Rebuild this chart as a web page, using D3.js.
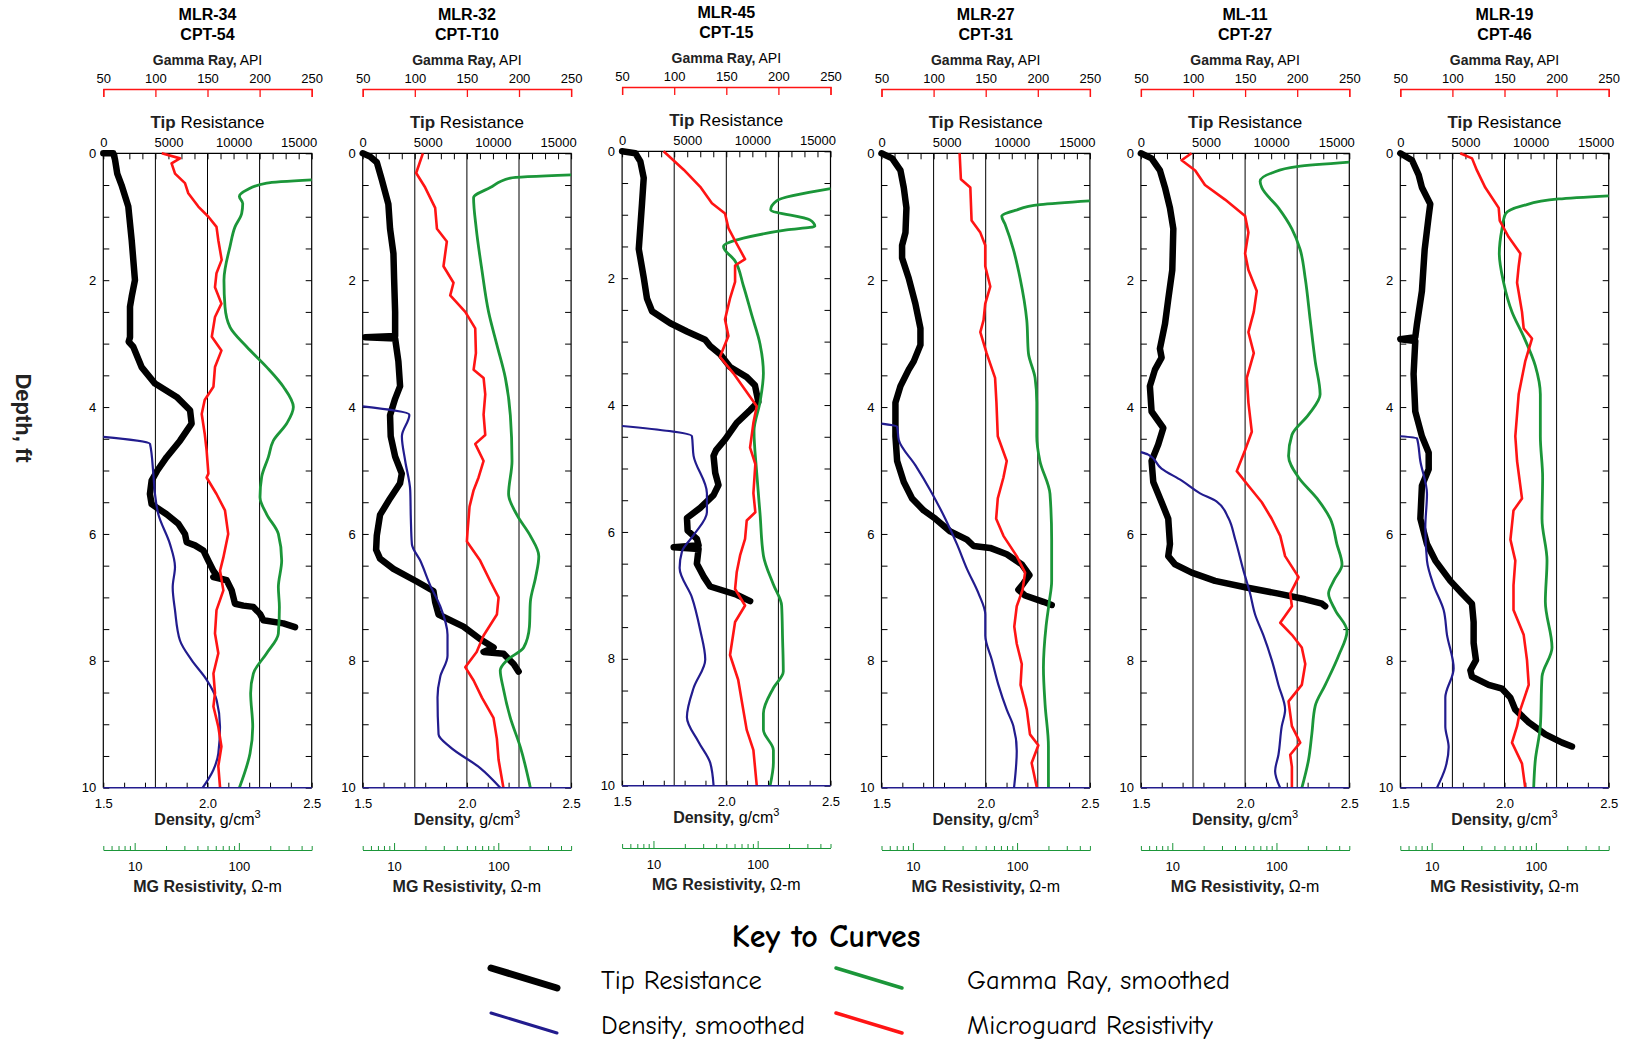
<!DOCTYPE html>
<html>
<head>
<meta charset="utf-8">
<script src="https://cdn.jsdelivr.net/npm/d3@7"></script>
<style>
  body { margin: 0; background: #fff; }
  svg { display: block; font-family: "Liberation Sans", Arial, sans-serif; }
</style>
</head>
<body>
<div id="chart"></div>
<script>
// well / sounding names, one pair per panel
const wellNames = [["MLR-34", "CPT-54"], ["MLR-32", "CPT-T10"], ["MLR-45", "CPT-15"],
                   ["MLR-27", "CPT-31"], ["ML-11", "CPT-27"], ["MLR-19", "CPT-46"]];

// tick labels
const gammaTicks = [50, 100, 150, 200, 250];
const tipTicks = [0, 5000, 10000, 15000];
const densityTicks = [1.5, 2.0, 2.5];
const mgTicks = [10, 100];
const depthTicks = [0, 2, 4, 6, 8, 10];

// every curve is [depth ft, value]
// tip resistance (0-16000), density g/cm3, gamma ray API, MG resistivity ohm-m
const tip34 = [[0,0],[0,770],[0.1,900],[0.32,1070],[0.5,1400],[0.84,1920],[1.37,2180],[2.0,2430],[2.26,2180],[2.42,2050],[2.9,2050],[2.97,1950],[3.05,2300],[3.37,2940],[3.63,3970],[3.84,5630],[4.05,6660],[4.26,6780],[4.53,5890],[4.79,4860],[5.0,4150],[5.16,3710],[5.37,3580],[5.53,3710],[5.69,4860],[5.84,5760],[6.0,6270],[6.13,6400],[6.18,7040],[6.26,7680],[6.42,8060],[6.58,8450],[6.65,8700],[6.68,8450],[6.71,9090],[6.73,9470],[6.89,9860],[7.1,10110],[7.13,10750],[7.15,11520],[7.26,12030],[7.36,12290],[7.41,13820],[7.47,14720]];
const den34 = [[4.47,1.5],[4.58,1.724],[5.05,1.74],[5.37,1.748],[5.69,1.764],[6.16,1.82],[6.52,1.844],[6.84,1.833],[7.2,1.844],[7.68,1.868],[7.99,1.924],[8.3,1.996],[8.62,2.044],[9.04,2.06],[9.46,2.052],[9.72,2.028],[10,1.977]];
const gam34 = [[0.42,250],[0.47,206.8],[0.58,187.6],[0.68,180.6],[0.79,183.8],[0.95,182.8],[1.16,176.4],[1.47,171.6],[2.0,165.8],[2.42,166.8],[2.74,171.6],[3.05,187.6],[3.37,206.8],[3.68,222.8],[4.0,232.4],[4.26,226],[4.53,213.2],[4.79,208.4],[5.1,202],[5.42,200.4],[5.69,206.8],[6.0,218],[6.42,221.2],[6.84,218],[7.15,219],[7.57,218],[7.88,206.8],[8.2,194],[8.51,191.4],[9.04,193.4],[9.46,190.8],[10,180.6]];
const mg34 = [[0,18.2],[0.08,27.2],[0.16,22.6],[0.32,24.4],[0.47,30.4],[0.63,32.7],[0.84,40.8],[1.0,51],[1.16,61],[1.37,63.5],[1.68,68.4],[1.89,61],[2.11,59],[2.37,68],[2.58,59],[2.89,55],[3.11,68],[3.37,59],[3.68,57],[3.89,47],[4.11,44],[4.42,47],[4.68,49],[5.05,51],[5.11,49],[5.37,61],[5.63,73.6],[6.0,79],[6.37,71],[6.58,66],[6.89,71],[7.2,61],[7.57,59],[7.88,63.5],[8.2,57],[8.51,59],[8.72,57],[9.04,63.5],[9.35,68],[9.66,63.5],[10,66]];

const tip32 = [[0,0],[0.05,560],[0.14,1080],[0.41,1460],[0.8,1970],[1.19,2100],[1.58,2360],[1.97,2410],[2.5,2490],[2.88,2490],[2.9,200],[2.92,2490],[3.28,2740],[3.67,2870],[3.87,2490],[4.13,2100],[4.46,2150],[4.78,2490],[5.05,3000],[5.2,2870],[5.44,2100],[5.7,1330],[6.03,1080],[6.25,1030],[6.39,1330],[6.55,2360],[6.75,4150],[6.9,5430],[7.07,5560],[7.27,5820],[7.46,7740],[7.66,9030],[7.79,10050],[7.86,9280],[7.89,10820],[8.05,11590],[8.17,11970]];
const den32 = [[3.99,1.5],[4.12,1.724],[4.46,1.688],[4.85,1.704],[5.31,1.728],[5.76,1.731],[6.16,1.736],[6.42,1.776],[6.81,1.824],[7.14,1.872],[7.59,1.907],[7.92,1.907],[8.25,1.872],[8.58,1.859],[9.16,1.864],[9.36,1.92],[9.69,2.064],[10,2.16]];
const gam32 = [[0.34,250],[0.39,191.7],[0.54,172.4],[0.7,156.4],[1.19,159],[1.84,164.4],[2.5,170.8],[3.02,178.8],[3.54,186.9],[4.13,191.7],[4.85,193.3],[5.37,190],[5.7,198],[6.03,210.9],[6.35,219],[6.68,216],[7.07,210.9],[7.46,210],[7.79,204.5],[7.99,188.5],[8.15,182],[8.44,185],[8.9,191.7],[9.36,201.3],[10,210.9]];
const mg32 = [[0,18.9],[0.31,16.3],[0.54,19.9],[0.86,24.8],[1.19,25.8],[1.39,32.1],[1.78,29.8],[2.04,37.2],[2.24,34.6],[2.5,48.2],[2.76,60.1],[3.15,61],[3.41,58],[3.54,72.3],[3.8,75],[4.12,72.3],[4.44,75],[4.58,60.1],[4.85,72.3],[5.11,64.7],[5.31,58],[5.57,53],[5.96,50.7],[6.12,50],[6.42,67],[6.75,84],[7.0,100.7],[7.27,97],[7.6,72.3],[7.86,62],[8.1,48.2],[8.31,58],[8.58,69.7],[8.9,90],[9.23,97],[9.56,100.7],[10,112]];

const tip45 = [[0,0],[0.03,1020],[0.16,1400],[0.42,1660],[0.82,1530],[1.54,1280],[1.99,1660],[2.32,1910],[2.52,2300],[2.71,3700],[2.84,4980],[2.97,6380],[3.07,6760],[3.2,7530],[3.4,8290],[3.56,9570],[3.69,10200],[3.95,10460],[4.08,9830],[4.28,8800],[4.54,7910],[4.71,7220],[4.8,7020],[5.07,7150],[5.26,7400],[5.42,7020],[5.62,6000],[5.78,4980],[5.98,5030],[6.11,5740],[6.21,5870],[6.24,3960],[6.27,5870],[6.5,5740],[6.7,6250],[6.86,6760],[6.99,8800],[7.09,9830]];
const den45 = [[4.33,1.5],[4.49,1.835],[4.8,1.843],[5.39,1.907],[5.69,1.907],[6.05,1.843],[6.31,1.787],[6.57,1.776],[7.03,1.835],[7.55,1.875],[8.01,1.899],[8.46,1.843],[8.92,1.811],[9.31,1.867],[9.64,1.923],[10,1.939]];
const gam45 = [[0.59,250],[0.78,198.3],[0.92,192.6],[1.08,230.2],[1.18,235],[1.24,207.9],[1.37,166.4],[1.5,147.3],[1.73,158.4],[2.12,166.4],[2.58,174.4],[3.04,182.4],[3.5,185.6],[3.95,182.4],[4.41,176.6],[5.07,179.2],[5.72,182.4],[6.37,185.6],[6.83,195.2],[7.16,203.1],[7.68,204],[8.2,204.7],[8.46,195.2],[8.86,185.6],[9.12,185.6],[9.44,195.2],[9.64,195.2],[10,192]];
const mg45 = [[0,12.5],[0.29,19.5],[0.56,28.1],[0.82,36.4],[0.98,48.6],[1.21,52.4],[1.41,60.7],[1.7,75.7],[1.8,60.7],[2.06,60.7],[2.32,54.3],[2.65,48.6],[2.91,52.4],[3.24,43.5],[3.5,58.5],[3.76,75.7],[4.02,98],[4.28,91],[4.67,84.5],[4.93,95],[5.39,91],[5.69,95],[5.82,78.5],[6.11,75.7],[6.37,67.8],[6.63,63],[6.9,60.7],[7.16,75.7],[7.42,60.7],[7.94,54.3],[8.33,65],[8.66,70.3],[9.12,78.5],[9.44,91],[10,98]];

const tip27 = [[0,0],[0.08,820],[0.27,1455],[0.54,1710],[0.86,1914],[1.25,1840],[1.45,1580],[1.65,1580],[1.97,2090],[2.37,2600],[2.76,2990],[3.02,2990],[3.28,2475],[3.41,2090],[3.67,1455],[3.93,1070],[4.46,1070],[4.85,1200],[5.18,1710],[5.44,2350],[5.63,3240],[5.76,4130],[5.96,5280],[6.09,6560],[6.19,7070],[6.22,8340],[6.32,9620],[6.48,10770],[6.65,11360],[6.78,10900],[6.88,10510],[6.97,11020],[7.07,12430],[7.12,13070]];
const den27 = [[4.26,1.5],[4.31,1.575],[4.52,1.583],[4.92,1.663],[5.31,1.734],[5.76,1.806],[6.16,1.862],[6.55,1.91],[6.94,1.966],[7.27,1.998],[7.6,1.998],[7.99,2.03],[8.38,2.061],[8.77,2.101],[9.03,2.133],[9.42,2.149],[10,2.136]];
const gam27 = [[0.75,250],[0.81,202.2],[0.9,178.2],[0.99,165.4],[1.12,168.6],[1.52,176.6],[1.97,183],[2.63,189.4],[3.15,191],[3.54,197.4],[3.93,199],[4.46,199],[4.85,202],[5.37,211.7],[6.09,213.3],[6.74,213.3],[7.07,211],[7.46,207.9],[8.11,205.4],[8.69,207],[9.35,210.2],[10,210.2]];
const mg27 = [[0,28.1],[0.41,28.9],[0.54,35.6],[1.06,36.6],[1.25,44.4],[1.45,49.5],[1.78,49.5],[2.1,55.3],[2.37,49.5],[2.63,47.7],[2.82,44.4],[3.15,51],[3.54,61.5],[3.93,63.4],[4.46,65.3],[4.85,79.6],[5.11,74],[5.44,65.3],[5.76,63],[6.03,74],[6.35,99.3],[6.61,119.4],[6.88,113],[7.14,99.3],[7.46,94],[7.73,99.3],[8.05,111],[8.38,108],[8.77,124],[9.16,133],[9.33,160],[9.61,138],[10,155]];

const tip11 = [[0,0],[0.08,820],[0.27,1460],[0.54,1850],[0.86,2230],[1.19,2490],[1.84,2410],[2.3,2100],[2.69,1850],[3.08,1460],[3.22,1590],[3.41,1080],[3.67,690],[4.07,820],[4.33,1720],[4.59,1330],[4.85,820],[5.18,950],[5.5,1590],[5.76,2100],[6.16,2230],[6.35,2100],[6.48,2620],[6.61,3900],[6.74,5690],[6.84,8000],[6.94,10560],[7.03,12620],[7.1,13900],[7.14,14150]];
const den11 = [[4.71,1.5],[4.75,1.535],[4.97,1.599],[5.16,1.696],[5.36,1.784],[5.49,1.864],[5.75,1.92],[6.08,1.952],[6.55,1.99],[6.94,2.024],[7.27,2.048],[7.6,2.088],[7.99,2.128],[8.38,2.16],[8.77,2.192],[9.03,2.176],[9.48,2.16],[9.74,2.144],[10,2.168]];
const gam11 = [[0.14,250],[0.21,199.7],[0.31,175.6],[0.44,164.4],[0.54,166],[0.86,182],[1.19,194.9],[1.52,202.9],[1.97,207.7],[2.63,212.5],[3.28,217.3],[3.8,222],[4.12,210.9],[4.44,194.9],[4.77,191.7],[5.11,201.3],[5.44,219],[5.76,231.7],[6.16,238.1],[6.48,243],[6.74,235],[6.94,230.1],[7.2,236.5],[7.53,247.8],[7.92,239.7],[8.38,226.9],[8.71,217.3],[9.16,214],[9.56,210.9],[10,204.5]];
const mg11 = [[0,15.3],[0.11,12.3],[0.27,16.6],[0.5,20.6],[0.73,32.1],[0.99,50],[1.25,53.8],[1.58,50],[1.84,53.8],[2.17,64.7],[2.5,60.6],[2.82,53.8],[3.15,60.6],[3.54,51.9],[3.93,53.8],[4.39,58],[4.71,49.2],[5.01,41.6],[5.24,53.8],[5.5,72.3],[5.76,90],[6.03,108.7],[6.35,121],[6.68,163],[6.94,135.5],[7.14,140.6],[7.4,108.7],[7.59,140.6],[7.79,175],[8.05,189],[8.38,175],[8.64,130.6],[9.03,140.6],[9.29,169],[9.48,135.5],[9.67,140.6],[10,140.6]];

const tip19 = [[0,0],[0.11,900],[0.34,1410],[0.54,1660],[0.8,2300],[0.99,2180],[1.52,1870],[2.17,1660],[2.69,1280],[2.9,1150],[2.93,0],[2.96,1150],[3.48,1020],[4.07,1150],[4.46,1660],[4.72,2180],[4.98,2180],[5.24,1660],[5.76,1540],[6.16,2050],[6.42,2690],[6.74,3840],[6.94,4740],[7.1,5500],[7.39,5630],[7.72,5630],[7.99,5810],[8.15,5380],[8.25,5500],[8.38,6780],[8.44,7810],[8.58,8450],[8.77,8830],[8.97,9860],[9.16,11140],[9.29,12420],[9.35,13180]];
const den19 = [[4.46,1.5],[4.49,1.58],[4.85,1.596],[5.37,1.628],[5.9,1.62],[6.42,1.628],[6.81,1.66],[7.2,1.708],[7.59,1.724],[8.12,1.756],[8.58,1.716],[9.03,1.716],[9.36,1.732],[9.69,1.716],[10,1.676]];
const gam19 = [[0.67,250],[0.72,202],[0.83,166.8],[0.96,150.8],[1.19,147.6],[1.58,145],[2.04,149.2],[2.5,157.2],[2.89,168.4],[3.35,179.6],[3.8,184.4],[4.46,184.4],[5.11,186.6],[5.76,186],[6.42,190.8],[7.07,189.2],[7.79,195.6],[8.25,186],[9.03,184.4],[9.56,179.6],[10,178]];
const mg19 = [[0,18.8],[0.08,24.4],[0.27,27.2],[0.54,32.7],[0.86,44],[1.06,45],[1.32,54.8],[1.58,71],[1.78,68.4],[2.04,66],[2.5,73.6],[2.76,76.4],[2.92,91.8],[3.28,79],[3.8,68.4],[4.46,63.5],[4.85,66],[5.44,73.6],[5.63,61],[6.09,57],[6.42,63.5],[6.81,61],[7.2,61],[7.59,76.4],[7.99,82.2],[8.38,85.4],[8.77,71],[9.03,66],[9.29,59],[9.62,73.6],[10,79]];

const panels = [
  { tip: tip34, den: den34, gam: gam34, mg: mg34 },
  { tip: tip32, den: den32, gam: gam32, mg: mg32 },
  { tip: tip45, den: den45, gam: gam45, mg: mg45 },
  { tip: tip27, den: den27, gam: gam27, mg: mg27 },
  { tip: tip11, den: den11, gam: gam11, mg: mg11 },
  { tip: tip19, den: den19, gam: gam19, mg: mg19 }
];

const width = 1627;
const height = 1045;
const left0 = 103.3;
const step = 259.4;
const pw = 208.4;
const plotTop = 153.3;
const plotBottom = 787.7;

const black = "#000";
const navy = "#221c8e";
const green = "#1b9639";
const red = "#ff1414";

const svg = d3.select("#chart").append("svg").attr("width", width).attr("height", height);

function styleAxis(sel, color, size) {
  sel.selectAll(".tick line").attr("stroke", color);
  sel.selectAll(".domain").attr("stroke", color);
  sel.selectAll("text").attr("font-size", size).attr("fill", "#000");
  sel.attr("font-family", null).attr("font-size", null);
}

panels.forEach((p, i) => {
  // the third panel sits two pixels higher in the original
  const dy = i === 2 ? -2 : 0;
  const g = svg.append("g").attr("transform", `translate(${left0 + i * step},${dy})`);

  const y = d3.scaleLinear().domain([0, 10]).range([plotTop, plotBottom]);
  const xDen = d3.scaleLinear().domain([1.5, 2.5]).range([0, pw]);
  const xTip = d3.scaleLinear().domain([0, 16000]).range([0, pw]);
  const xGam = d3.scaleLinear().domain([50, 250]).range([0, pw]);
  const xMg = d3.scaleLog().domain([5, 500]).range([0, pw]);

  // titles
  g.append("text").attr("x", pw / 2).attr("y", 20).attr("text-anchor", "middle")
    .attr("font-size", 16).attr("font-weight", "bold").text(wellNames[i][0]);
  g.append("text").attr("x", pw / 2).attr("y", 40).attr("text-anchor", "middle")
    .attr("font-size", 16).attr("font-weight", "bold").text(wellNames[i][1]);

  // gamma ray axis
  const gt = g.append("text").attr("x", pw / 2).attr("y", 65).attr("text-anchor", "middle").attr("font-size", 14);
  gt.append("tspan").attr("font-weight", "bold").attr("fill", "#222").text("Gamma Ray,");
  gt.append("tspan").text(" API");
  const gAx = g.append("g").attr("transform", "translate(0,89)")
    .call(d3.axisTop(xGam).tickValues(gammaTicks).tickSizeInner(-8).tickSizeOuter(-8).tickPadding(6));
  styleAxis(gAx, red, 13);
  gAx.selectAll("line, path").attr("stroke-width", 1.3);

  // tip resistance axis
  const tt = g.append("text").attr("x", pw / 2).attr("y", 127.5).attr("text-anchor", "middle").attr("font-size", 17);
  tt.append("tspan").attr("font-weight", "bold").attr("fill", "#222").text("Tip");
  tt.append("tspan").text(" Resistance");
  const tAx = g.append("g").attr("transform", `translate(0,${plotTop})`)
    .call(d3.axisTop(xTip).tickValues(tipTicks).tickSize(0).tickPadding(6).tickFormat(d3.format("d")));
  tAx.select(".domain").remove();
  styleAxis(tAx, black, 13);
  const tTicks = g.append("g").attr("transform", `translate(0,${plotTop})`)
    .call(d3.axisTop(xTip).tickValues(d3.range(0, 16001, 1000)).tickSize(-6).tickFormat(""));
  tTicks.select(".domain").remove();

  // grid lines
  g.append("g").selectAll("line").data([1.75, 2.0, 2.25]).join("line")
    .attr("x1", d => xDen(d)).attr("x2", d => xDen(d))
    .attr("y1", plotTop).attr("y2", plotBottom).attr("stroke", black).attr("stroke-width", 1);

  // depth axes
  const lAx = g.append("g")
    .call(d3.axisLeft(y).tickValues(d3.range(0, 10.01, 0.5)).tickSize(-6).tickPadding(7)
      .tickFormat(d => depthTicks.includes(d) ? d : ""));
  lAx.select(".domain").remove();
  styleAxis(lAx, black, 13);
  const rAx = g.append("g").attr("transform", `translate(${pw},0)`)
    .call(d3.axisRight(y).tickValues(d3.range(0, 10.01, 0.5)).tickSize(-6).tickFormat(""));
  rAx.select(".domain").remove();

  // density axis
  const bAx = g.append("g").attr("transform", `translate(0,${plotBottom})`)
    .call(d3.axisBottom(xDen).tickValues(d3.range(15, 26).map(v => v / 10)).tickSize(-5).tickPadding(11)
      .tickFormat(d => densityTicks.includes(d) ? d3.format(".1f")(d) : ""));
  bAx.select(".domain").remove();
  styleAxis(bAx, black, 13);

  // frame
  g.append("path").attr("d", `M0,${plotBottom}V${plotTop}H${pw}V${plotBottom}`)
    .attr("fill", "none").attr("stroke", black).attr("stroke-width", 1.2);

  // curves
  const line = (xs, curve) => d3.line().x(d => xs(d[1])).y(d => y(d[0])).curve(curve);
  g.append("path").datum(p.tip).attr("d", line(xTip, d3.curveLinear))
    .attr("fill", "none").attr("stroke", black).attr("stroke-width", 6.5)
    .attr("stroke-linejoin", "round").attr("stroke-linecap", "round");
  g.append("path").datum(p.den).attr("d", line(xDen, d3.curveMonotoneY))
    .attr("fill", "none").attr("stroke", navy).attr("stroke-width", 2.2);
  g.append("path").datum(p.gam).attr("d", line(xGam, d3.curveMonotoneY))
    .attr("fill", "none").attr("stroke", green).attr("stroke-width", 2.8);
  g.append("path").datum(p.mg).attr("d", line(xMg, d3.curveLinear))
    .attr("fill", "none").attr("stroke", red).attr("stroke-width", 2.6).attr("stroke-linejoin", "round");

  g.append("line").attr("x1", 0).attr("x2", pw).attr("y1", plotBottom).attr("y2", plotBottom)
    .attr("stroke", navy).attr("stroke-width", 1.5);

  const dt = g.append("text").attr("x", pw / 2).attr("y", 825).attr("text-anchor", "middle").attr("font-size", 16);
  dt.append("tspan").attr("font-weight", "bold").attr("fill", "#222").text("Density,");
  dt.append("tspan").text(" g/cm");
  dt.append("tspan").attr("font-size", 11).attr("dy", -7).text("3");

  // MG resistivity axis
  const mMinor = g.append("g").attr("transform", "translate(0,850)")
    .call(d3.axisBottom(xMg).tickValues([5, 6, 7, 8, 9, 20, 30, 40, 50, 60, 70, 80, 90, 200, 300, 400, 500])
      .tickSizeInner(-4).tickSizeOuter(0).tickFormat(""));
  styleAxis(mMinor, green, 13);
  const mAx = g.append("g").attr("transform", "translate(0,850)")
    .call(d3.axisBottom(xMg).tickValues(mgTicks).tickSizeInner(-7).tickSizeOuter(0).tickPadding(12)
      .tickFormat(d3.format("d")));
  styleAxis(mAx, green, 13);

  const mt = g.append("text").attr("x", pw / 2).attr("y", 892).attr("text-anchor", "middle").attr("font-size", 16);
  mt.append("tspan").attr("font-weight", "bold").attr("fill", "#222").text("MG Resistivity,");
  mt.append("tspan").text(" \u03A9-m");
});

// y label
svg.append("text").attr("transform", "translate(16,418) rotate(90)")
  .attr("text-anchor", "middle").attr("font-size", 22).attr("font-weight", "bold")
  .attr("fill", "#222").text("Depth, ft");

// key to curves
const keyItems = [
  { label: "Tip Resistance", color: black, w: 7, x: 491, y: 968 },
  { label: "Density, smoothed", color: navy, w: 3, x: 491, y: 1013 },
  { label: "Gamma Ray, smoothed", color: green, w: 3.5, x: 836, y: 968 },
  { label: "Microguard Resistivity", color: red, w: 3.5, x: 836, y: 1013 }
];
const key = svg.append("g").attr("font-family", "'Comic Sans MS', 'Comic Neue', Lato, sans-serif");
key.append("text").attr("x", 826).attr("y", 947).attr("text-anchor", "middle")
  .attr("font-size", 32).attr("font-weight", "bold").text("Key to Curves");
key.selectAll("line").data(keyItems).join("line")
  .attr("x1", d => d.x).attr("y1", d => d.y).attr("x2", d => d.x + 66).attr("y2", d => d.y + 20)
  .attr("stroke", d => d.color).attr("stroke-width", d => d.w).attr("stroke-linecap", "round");
key.selectAll("text.item").data(keyItems).join("text").attr("class", "item")
  .attr("x", d => d.x + 110 + (d.x > 600 ? 21 : 0)).attr("y", d => d.y + 21)
  .attr("font-size", 26.5).text(d => d.label);
</script>
</body>
</html>
